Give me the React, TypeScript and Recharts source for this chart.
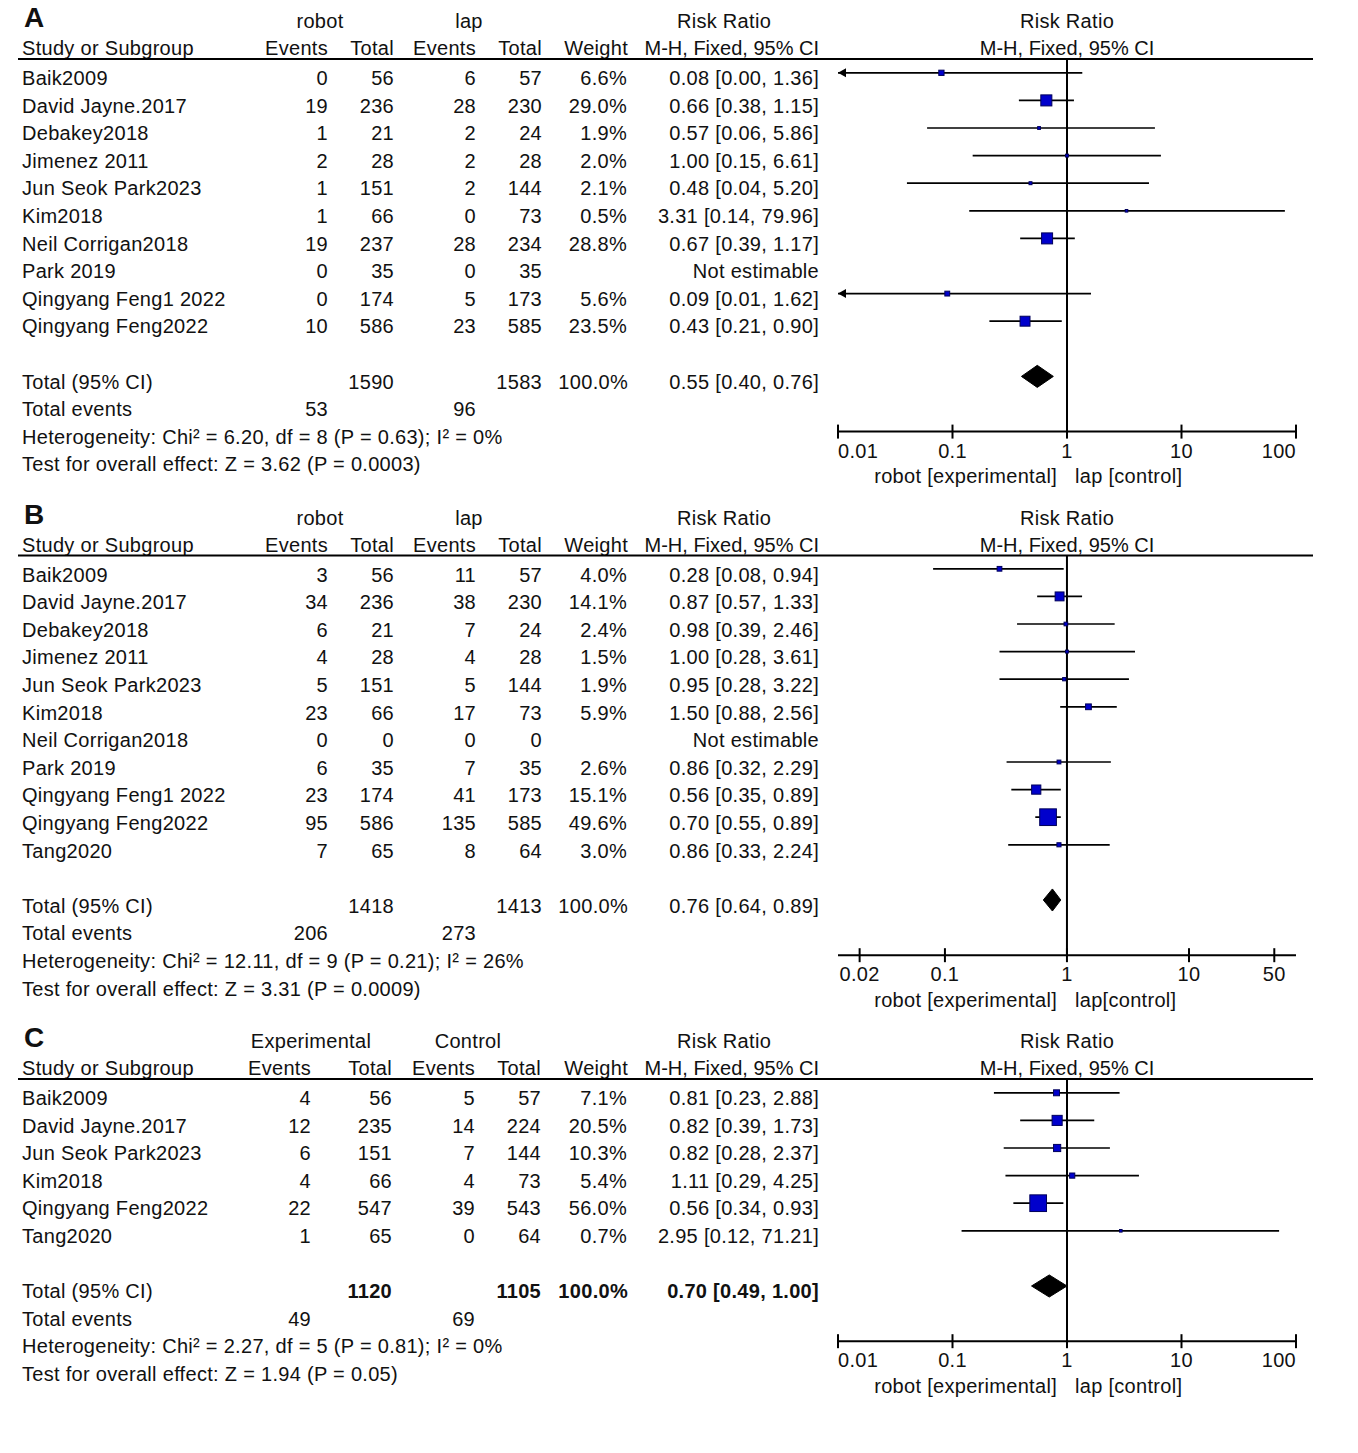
import React from 'react';
import { ScatterChart, Scatter, XAxis, YAxis, ReferenceLine } from 'recharts';

// ---------- A: robot vs lap ----------
const studiesA = ['Baik2009', 'David Jayne.2017', 'Debakey2018', 'Jimenez 2011', 'Jun Seok Park2023', 'Kim2018', 'Neil Corrigan2018', 'Park 2019', 'Qingyang Feng1 2022', 'Qingyang Feng2022'];
const expEventsA = [0, 19, 1, 2, 1, 1, 19, 0, 0, 10];
const expTotalA = [56, 236, 21, 28, 151, 66, 237, 35, 174, 586];
const ctlEventsA = [6, 28, 2, 2, 2, 0, 28, 0, 5, 23];
const ctlTotalA = [57, 230, 24, 28, 144, 73, 234, 35, 173, 585];
const weightA = [6.6, 29.0, 1.9, 2.0, 2.1, 0.5, 28.8, null, 5.6, 23.5];
const rrA = [0.08, 0.66, 0.57, 1.0, 0.48, 3.31, 0.67, null, 0.09, 0.43];
const loA = [0.0, 0.38, 0.06, 0.15, 0.04, 0.14, 0.39, null, 0.01, 0.21];
const hiA = [1.36, 1.15, 5.86, 6.61, 5.2, 79.96, 1.17, null, 1.62, 0.9];
const totalsA = [1590, 1583];
const totalEventsA = [53, 96];
const pooledA = [0.55, 0.4, 0.76];
const statsA = ['Heterogeneity: Chi² = 6.20, df = 8 (P = 0.63); I² = 0%', 'Test for overall effect: Z = 3.62 (P = 0.0003)'];
const ticksA = [0.01, 0.1, 1, 10, 100];
const tickLabelsA = ['0.01', '0.1', '1', '10', '100'];
const favoursA = ['robot [experimental]', 'lap [control]'];

// ---------- B: robot vs lap ----------
const studiesB = ['Baik2009', 'David Jayne.2017', 'Debakey2018', 'Jimenez 2011', 'Jun Seok Park2023', 'Kim2018', 'Neil Corrigan2018', 'Park 2019', 'Qingyang Feng1 2022', 'Qingyang Feng2022', 'Tang2020'];
const expEventsB = [3, 34, 6, 4, 5, 23, 0, 6, 23, 95, 7];
const expTotalB = [56, 236, 21, 28, 151, 66, 0, 35, 174, 586, 65];
const ctlEventsB = [11, 38, 7, 4, 5, 17, 0, 7, 41, 135, 8];
const ctlTotalB = [57, 230, 24, 28, 144, 73, 0, 35, 173, 585, 64];
const weightB = [4.0, 14.1, 2.4, 1.5, 1.9, 5.9, null, 2.6, 15.1, 49.6, 3.0];
const rrB = [0.28, 0.87, 0.98, 1.0, 0.95, 1.5, null, 0.86, 0.56, 0.7, 0.86];
const loB = [0.08, 0.57, 0.39, 0.28, 0.28, 0.88, null, 0.32, 0.35, 0.55, 0.33];
const hiB = [0.94, 1.33, 2.46, 3.61, 3.22, 2.56, null, 2.29, 0.89, 0.89, 2.24];
const totalsB = [1418, 1413];
const totalEventsB = [206, 273];
const pooledB = [0.76, 0.64, 0.89];
const statsB = ['Heterogeneity: Chi² = 12.11, df = 9 (P = 0.21); I² = 26%', 'Test for overall effect: Z = 3.31 (P = 0.0009)'];
const ticksB = [0.02, 0.1, 1, 10, 50];
const tickLabelsB = ['0.02', '0.1', '1', '10', '50'];
const favoursB = ['robot [experimental]', 'lap[control]'];

// ---------- C: experimental vs control ----------
const studiesC = ['Baik2009', 'David Jayne.2017', 'Jun Seok Park2023', 'Kim2018', 'Qingyang Feng2022', 'Tang2020'];
const expEventsC = [4, 12, 6, 4, 22, 1];
const expTotalC = [56, 235, 151, 66, 547, 65];
const ctlEventsC = [5, 14, 7, 4, 39, 0];
const ctlTotalC = [57, 224, 144, 73, 543, 64];
const weightC = [7.1, 20.5, 10.3, 5.4, 56.0, 0.7];
const rrC = [0.81, 0.82, 0.82, 1.11, 0.56, 2.95];
const loC = [0.23, 0.39, 0.28, 0.29, 0.34, 0.12];
const hiC = [2.88, 1.73, 2.37, 4.25, 0.93, 71.21];
const totalsC = [1120, 1105];
const totalEventsC = [49, 69];
const pooledC = [0.7, 0.49, 1.0];
const statsC = ['Heterogeneity: Chi² = 2.27, df = 5 (P = 0.81); I² = 0%', 'Test for overall effect: Z = 1.94 (P = 0.05)'];
const ticksC = [0.01, 0.1, 1, 10, 100];
const tickLabelsC = ['0.01', '0.1', '1', '10', '100'];
const favoursC = ['robot [experimental]', 'lap [control]'];

// layout
const FONT = "'Liberation Sans', Arial, Helvetica, sans-serif";
const INK = '#111';
const SPACING = 0.3;
const ROW0 = 72.5; // centre of first study row, panel relative
const ROW_H = 27.6;
const TEXT_DY = 12.5; // baseline below row centre
const PLOT_L = 838;
const PLOT_R = 1296;
const ZERO_X = 1067;

const colsRobot = { groupExp: 320, groupCtl: 469, expEv: 328, expTot: 394, ctlEv: 476, ctlTot: 542, weight: 627, ci: 819 };
const colsExp = { groupExp: 311, groupCtl: 468, expEv: 311, expTot: 392, ctlEv: 475, ctlTot: 541, weight: 627, ci: 819 };

const panels = [
  {
    label: 'A', top: 0, groups: ['robot', 'lap'], cols: colsRobot,
    studies: studiesA, expEvents: expEventsA, expTotal: expTotalA, ctlEvents: ctlEventsA, ctlTotal: ctlTotalA,
    weight: weightA, rr: rrA, lo: loA, hi: hiA, totals: totalsA, totalEvents: totalEventsA, pooled: pooledA,
    stats: statsA, ticks: ticksA, tickLabels: tickLabelsA, favours: favoursA,
    domain: [0.01, 100], boxK: 2.05, boldTotals: false,
  },
  {
    label: 'B', top: 496.5, groups: ['robot', 'lap'], cols: colsRobot,
    studies: studiesB, expEvents: expEventsB, expTotal: expTotalB, ctlEvents: ctlEventsB, ctlTotal: ctlTotalB,
    weight: weightB, rr: rrB, lo: loB, hi: hiB, totals: totalsB, totalEvents: totalEventsB, pooled: pooledB,
    stats: statsB, ticks: ticksB, tickLabels: tickLabelsB, favours: favoursB,
    domain: [0.0133, 75.3], boxK: 2.37, boldTotals: false,
  },
  {
    label: 'C', top: 1020, groups: ['Experimental', 'Control'], cols: colsExp,
    studies: studiesC, expEvents: expEventsC, expTotal: expTotalC, ctlEvents: ctlEventsC, ctlTotal: ctlTotalC,
    weight: weightC, rr: rrC, lo: loC, hi: hiC, totals: totalsC, totalEvents: totalEventsC, pooled: pooledC,
    stats: statsC, ticks: ticksC, tickLabels: tickLabelsC, favours: favoursC,
    domain: [0.01, 100], boxK: 2.23, boldTotals: true,
  },
];

type Panel = (typeof panels)[number];

const ciText = (r: number, l: number, h: number) => `${r.toFixed(2)} [${l.toFixed(2)}, ${h.toFixed(2)}]`;

const rowBase = (i: number) => ROW0 + i * ROW_H + TEXT_DY;

function Table({ p }: { p: Panel }) {
  const n = p.studies.length;
  const c = p.cols;
  const totalIdx = n + 1;
  const axisY = ROW0 + (n + 3) * ROW_H;
  const tw = p.boldTotals ? 'bold' : 'normal';
  return (
    <g transform={`translate(0, ${p.top})`}>
      <text x={24} y={27} fontSize={28} fontWeight="bold" letterSpacing={0}>{p.label}</text>
      <text x={c.groupExp} y={28} textAnchor="middle">{p.groups[0]}</text>
      <text x={c.groupCtl} y={28} textAnchor="middle">{p.groups[1]}</text>
      <text x={724} y={28} textAnchor="middle">Risk Ratio</text>
      <text x={ZERO_X} y={28} textAnchor="middle">Risk Ratio</text>

      <text x={22} y={55}>Study or Subgroup</text>
      <text x={c.expEv} y={55} textAnchor="end">Events</text>
      <text x={c.expTot} y={55} textAnchor="end">Total</text>
      <text x={c.ctlEv} y={55} textAnchor="end">Events</text>
      <text x={c.ctlTot} y={55} textAnchor="end">Total</text>
      <text x={c.weight + 1} y={55} textAnchor="end">Weight</text>
      <text x={c.ci} y={55} textAnchor="end" letterSpacing={0}>M-H, Fixed, 95% CI</text>
      <text x={ZERO_X} y={55} textAnchor="middle" letterSpacing={0}>M-H, Fixed, 95% CI</text>
      <line x1={18} x2={1313} y1={59} y2={59} stroke="#000" strokeWidth={2} />

      {p.studies.map((s, i) => {
        const y = rowBase(i);
        const w = p.weight[i];
        const r = p.rr[i];
        return (
          <g key={s}>
            <text x={22} y={y}>{s}</text>
            <text x={c.expEv} y={y} textAnchor="end">{p.expEvents[i]}</text>
            <text x={c.expTot} y={y} textAnchor="end">{p.expTotal[i]}</text>
            <text x={c.ctlEv} y={y} textAnchor="end">{p.ctlEvents[i]}</text>
            <text x={c.ctlTot} y={y} textAnchor="end">{p.ctlTotal[i]}</text>
            {w != null && <text x={c.weight} y={y} textAnchor="end">{w.toFixed(1)}%</text>}
            <text x={c.ci} y={y} textAnchor="end">
              {r == null ? 'Not estimable' : ciText(r, p.lo[i] as number, p.hi[i] as number)}
            </text>
          </g>
        );
      })}

      <text x={22} y={rowBase(totalIdx)}>Total (95% CI)</text>
      <text x={c.expTot} y={rowBase(totalIdx)} textAnchor="end" fontWeight={tw}>{p.totals[0]}</text>
      <text x={c.ctlTot} y={rowBase(totalIdx)} textAnchor="end" fontWeight={tw}>{p.totals[1]}</text>
      <text x={c.weight + 1} y={rowBase(totalIdx)} textAnchor="end" fontWeight={tw}>100.0%</text>
      <text x={c.ci} y={rowBase(totalIdx)} textAnchor="end" fontWeight={tw}>
        {ciText(p.pooled[0], p.pooled[1], p.pooled[2])}
      </text>
      <text x={22} y={rowBase(totalIdx + 1)}>Total events</text>
      <text x={c.expEv} y={rowBase(totalIdx + 1)} textAnchor="end">{p.totalEvents[0]}</text>
      <text x={c.ctlEv} y={rowBase(totalIdx + 1)} textAnchor="end">{p.totalEvents[1]}</text>
      <text x={22} y={rowBase(totalIdx + 2)}>{p.stats[0]}</text>
      <text x={22} y={rowBase(totalIdx + 3)}>{p.stats[1]}</text>

      <text x={ZERO_X - 10} y={axisY + 52} textAnchor="end">{p.favours[0]}</text>
      <text x={ZERO_X + 8} y={axisY + 52}>{p.favours[1]}</text>
    </g>
  );
}

const Nothing = () => <g />;

function Forest({ p }: { p: Panel }) {
  const n = p.studies.length;
  const totalIdx = n + 1;
  const axisIdx = n + 3;
  const plotH = (axisIdx + 0.5) * ROW_H;
  const m = { top: 14, right: 24, bottom: 0, left: 14 };
  const axisH = 60;
  const width = PLOT_R - PLOT_L + m.left + m.right;
  const height = m.top + plotH + axisH;
  const axisYLocal = m.top + plotH;
  const [dMin, dMax] = p.domain;

  const rows = p.studies
    .map((s, i) => ({ s, i, rr: p.rr[i], lo: p.lo[i], hi: p.hi[i], w: p.weight[i] }))
    .filter((d) => d.rr != null);

  const boxes = rows.map((d) => ({ x: d.rr, y: d.i, w: d.w }));
  const [pr, pl, ph] = p.pooled;
  const dh = 0.4;
  const diamond = [
    { x: pl, y: totalIdx },
    { x: pr, y: totalIdx - dh },
    { x: ph, y: totalIdx },
    { x: pr, y: totalIdx + dh },
    { x: pl, y: totalIdx },
  ];

  const End = (props: any) => {
    const { cx, cy, payload } = props;
    if (payload.arrow === 'left')
      return <polygon points={`${cx},${cy} ${cx + 8},${cy - 4.5} ${cx + 8},${cy + 4.5}`} fill="#000" />;
    if (payload.arrow === 'right')
      return <polygon points={`${cx},${cy} ${cx - 8},${cy - 4.5} ${cx - 8},${cy + 4.5}`} fill="#000" />;
    return <g />;
  };

  const Box = (props: any) => {
    const { cx, cy, payload } = props;
    const side = Math.max(2.6, p.boxK * Math.sqrt(payload.w));
    return (
      <rect x={cx - side / 2} y={cy - side / 2} width={side} height={side} fill="#0000cc" stroke="#00005a" strokeWidth={1} />
    );
  };

  const Tick = (props: any) => {
    const { x, payload } = props;
    const idx = p.ticks.indexOf(payload.value);
    const atMin = payload.value <= dMin * 1.0001;
    const atMax = payload.value >= dMax * 0.9999;
    const anchor = atMin ? 'start' : atMax ? 'end' : 'middle';
    return (
      <g>
        <line x1={x} x2={x} y1={axisYLocal - 7} y2={axisYLocal + 7} stroke="#000" strokeWidth={2} />
        <text x={x} y={axisYLocal + 26} textAnchor={anchor} fontSize={20} fill={INK} fontFamily={FONT} letterSpacing={SPACING}>
          {p.tickLabels[idx]}
        </text>
      </g>
    );
  };

  return (
    <div style={{ position: 'absolute', left: PLOT_L - m.left, top: p.top + ROW0 - 0.5 * ROW_H - m.top }}>
      <ScatterChart width={width} height={height} margin={m} style={{ overflow: 'visible' }}>
        <XAxis
          type="number"
          dataKey="x"
          scale="log"
          domain={p.domain}
          allowDataOverflow
          ticks={p.ticks}
          interval={0}
          height={axisH}
          axisLine={{ stroke: '#000', strokeWidth: 2 }}
          tickLine={false}
          tick={Tick}
        />
        <YAxis type="number" dataKey="y" domain={[-0.5, axisIdx]} reversed hide allowDataOverflow width={0} />
        <ReferenceLine x={1} stroke="#000" strokeWidth={2} />
        {rows.map((d) => {
          const lo = d.lo as number;
          const hi = d.hi as number;
          const data = [
            { x: Math.max(lo, dMin), y: d.i, arrow: lo <= dMin ? 'left' : '' },
            { x: Math.min(hi, dMax), y: d.i, arrow: hi >= dMax ? 'right' : '' },
          ];
          return (
            <Scatter
              key={d.s}
              data={data}
              line={{ stroke: '#000', strokeWidth: 1.7 }}
              shape={End}
              isAnimationActive={false}
            />
          );
        })}
        <Scatter data={boxes} shape={Box} isAnimationActive={false} />
        <Scatter
          data={diamond}
          line={{ stroke: '#000', strokeWidth: 1, fill: '#000' }}
          shape={Nothing}
          isAnimationActive={false}
        />
      </ScatterChart>
    </div>
  );
}

export default function App() {
  return (
    <div style={{ position: 'absolute', left: 0, top: 0, width: 1358, height: 1453, background: '#fff', fontFamily: FONT }}>
      <svg
        width={1358}
        height={1453}
        style={{ position: 'absolute', left: 0, top: 0 }}
        fontFamily={FONT}
        fontSize={20}
        fill={INK}
        letterSpacing={SPACING}
      >
        {panels.map((p) => (
          <Table key={p.label} p={p} />
        ))}
      </svg>
      {panels.map((p) => (
        <Forest key={p.label} p={p} />
      ))}
    </div>
  );
}
